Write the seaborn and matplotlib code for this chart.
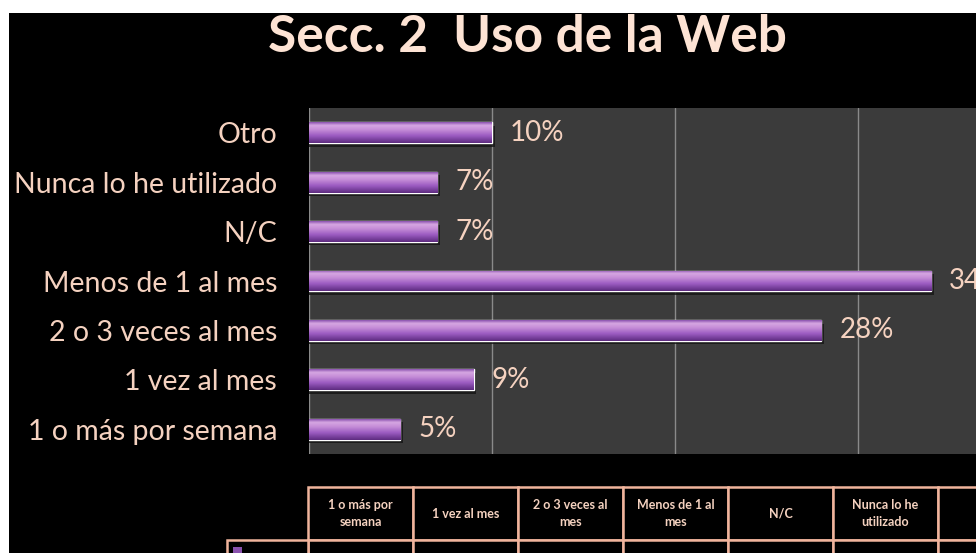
import textwrap
import numpy as np
import seaborn as sns
import matplotlib.pyplot as plt
from matplotlib.patches import Rectangle
from matplotlib.colors import LinearSegmentedColormap

# Data (top to bottom as drawn)
categories = ['Otro', 'Nunca lo he utilizado', 'N/C', 'Menos de 1 al mes',
              '2 o 3 veces al mes', '1 vez al mes', '1 o más por semana']
values = [10, 7, 7, 34, 28, 9, 5]
# data table under the chart uses the reverse order
table_order = categories[::-1]

txt = '#f5d2c0'
sns.set_theme(style='dark')
plt.rcParams['font.family'] = ['Lato', 'DejaVu Sans']

fig = plt.figure(figsize=(9.76, 5.53), dpi=100, facecolor='white')
# black slide background, white strip at top / left
fig.patches.append(Rectangle((9 / 976, 0), 1, 1 - 13 / 553, transform=fig.transFigure,
                             facecolor='black', edgecolor='none', zorder=-10))

ax = fig.add_axes([309 / 976, 1 - 454 / 553, 667 / 976, 346 / 553])
ax.set_facecolor('#3b3b3b')

sns.barplot(x=values, y=categories, orient='h', color='#9b62c0', width=0.42,
            ax=ax, zorder=3)

# gradient fill + shadow on each bar
grad = LinearSegmentedColormap.from_list('bar', [
    (0.0, '#8a52ae'), (0.15, '#d6a6e2'), (0.35, '#c78fd8'),
    (0.65, '#9c5cc2'), (1.0, '#5e2c80')])
g = np.linspace(0, 1, 64).reshape(-1, 1)
for p in ax.patches:
    x0, y0, w, h = p.get_x(), p.get_y(), p.get_width(), p.get_height()
    ax.add_patch(Rectangle((x0, y0 + 0.07), w + 0.15, h, facecolor='#151515',
                           edgecolor='none', alpha=0.8, zorder=2))
    im = ax.imshow(g, cmap=grad, aspect='auto', extent=(x0, x0 + w, y0 + h, y0),
                   zorder=4, interpolation='bilinear')
    im.set_clip_path(p)

ax.set_xlim(0, 36.45)
ax.set_ylim(len(categories) - 0.5, -0.5)

ax.bar_label(ax.containers[0], labels=[f'{v}%' for v in values], padding=13,
             color=txt, fontsize=20, zorder=5)

ax.set_xticks([0, 10, 20, 30])
ax.set_xticklabels([])
ax.xaxis.grid(True, color='#8a8a8a', linewidth=1)
ax.yaxis.grid(False)
ax.tick_params(axis='y', length=0, pad=23, labelsize=20.5, labelcolor=txt)
ax.tick_params(axis='x', length=0)
ax.set_xlabel('')
ax.set_ylabel('')
for s in ax.spines.values():
    s.set_visible(False)

fig.text(527 / 976, 1 - 37 / 553, 'Secc. 2  Uso de la Web', ha='center', va='center',
         fontsize=37, fontweight='bold', color='#fde3d4')

# data table (Excel style) below the plot, cut off by the image edge
edge = '#f0b49c'
def px(x):
    return (x - 309) / 667
def py(y):
    return (454 - y) / 346
colw = 105
top, mid, bot = 487, 540, 585
for j, c in enumerate(table_order):
    xl = 308 + j * colw
    for y1, y2 in [(top, mid), (mid, bot)]:
        ax.add_patch(Rectangle((px(xl), py(y2)), colw / 667, (y2 - y1) / 346,
                               transform=ax.transAxes, clip_on=False,
                               facecolor='black', edgecolor=edge, linewidth=1.8))
    ax.text(px(xl + colw / 2), py((top + mid) / 2), textwrap.fill(c, 14),
            transform=ax.transAxes, ha='center', va='center', fontsize=9,
            fontweight='bold', color=txt, clip_on=False, linespacing=1.5)
ax.add_patch(Rectangle((px(227), py(bot)), 81 / 667, (bot - mid) / 346,
                       transform=ax.transAxes, clip_on=False,
                       facecolor='black', edgecolor=edge, linewidth=1.8))
# series key in the row-label cell
ax.add_patch(Rectangle((px(233), py(556)), 9 / 667, 9 / 346, transform=ax.transAxes,
                       clip_on=False, facecolor='#8a52ae', edgecolor='none'))

fig.savefig('out.png', dpi=100, facecolor=fig.get_facecolor())
